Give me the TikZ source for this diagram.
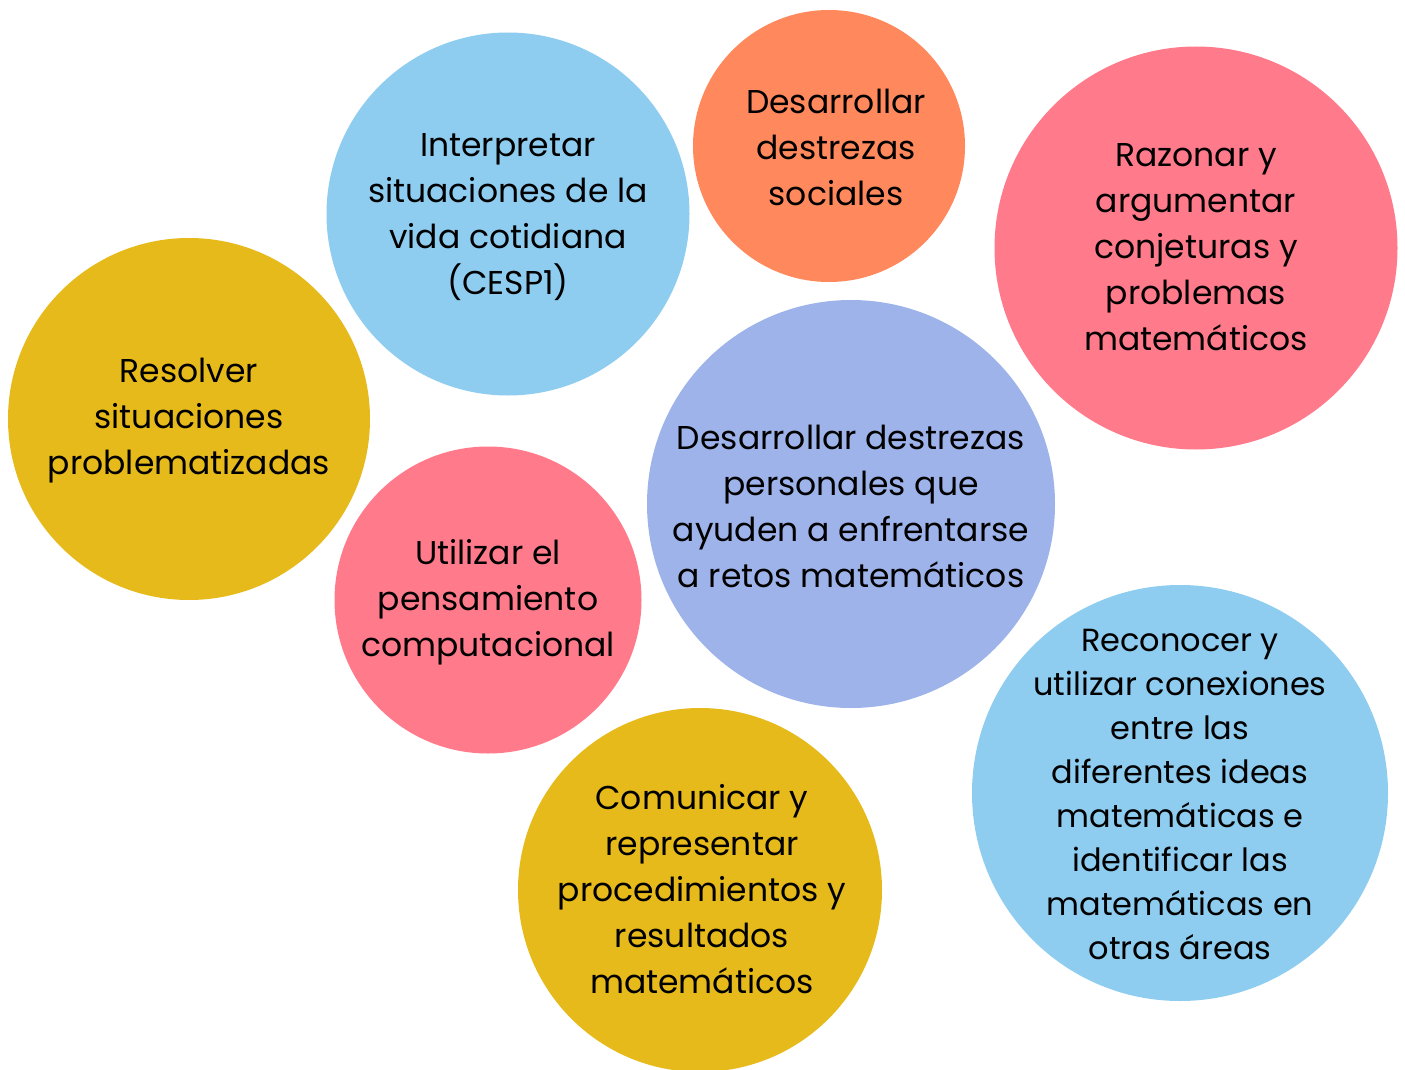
\documentclass[tikz,border=0pt]{standalone}
\usepackage{fontspec}
\setmainfont{Poppins}
\definecolor{cblue}{HTML}{8ECDF0}
\definecolor{corange}{HTML}{FF895D}
\definecolor{cpink}{HTML}{FF7B8C}
\definecolor{cgold}{HTML}{E6BA1B}
\definecolor{cperi}{HTML}{9DB3EA}
\begin{document}
\begin{tikzpicture}[x=1pt,y=-1pt,
  lbl/.style={align=center,font=\fontsize{33}{46}\selectfont,text=black},
  lbls/.style={align=center,font=\fontsize{32}{44}\selectfont,text=black}]
\useasboundingbox (0,0) rectangle (1405,1070);
\fill[cblue] (508,214) circle (181.5);
\fill[corange] (829,146) circle (136);
\fill[cpink] (1196,248) circle (201.5);
\fill[cgold] (189,419) circle (181);
\fill[cpink] (488,600) circle (153.5);
\fill[cperi] (851,504) circle (204);
\fill[cblue] (1180,793) circle (208);
\fill[cgold] (700,890) circle (182);
\node[lbl] (n1) at (508,217) {Interpretar\\situaciones de la\\vida cotidiana\\(CESP1)};
\node[lbl] (n2) at (836,147) {Desarrollar\\destrezas\\sociales};
\node[lbl] (n3) at (1196,247) {Razonar y\\argumentar\\conjeturas y\\problemas\\matemáticos};
\node[lbl] (n4) at (189,421) {Resolver\\situaciones\\problematizadas};
\node[lbl] (n5) at (488,602) {Utilizar el\\pensamiento\\computacional};
\node[lbl] (n6) at (851,506) {Desarrollar destrezas\\personales que\\ayuden a enfrentarse\\a retos matemáticos};
\node[lbls] (n7) at (1180,794) {Reconocer y\\utilizar conexiones\\entre las\\diferentes ideas\\matemáticas e\\identificar las\\matemáticas en\\otras áreas};
\node[lbl] (n8) at (702,889) {Comunicar y\\representar\\procedimientos y\\resultados\\matemáticos};
\end{tikzpicture}
\end{document}
